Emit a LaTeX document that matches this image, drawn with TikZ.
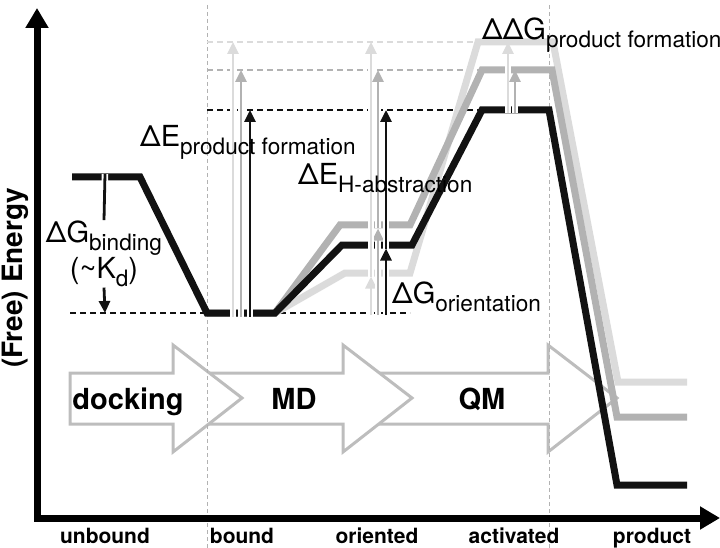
\documentclass[tikz,border=0pt]{standalone}
\usepackage{fontspec}
\setmainfont{TeX Gyre Heros}
\usetikzlibrary{arrows.meta, positioning, calc}

\definecolor{lightcurve}{gray}{0.86}
\definecolor{midcurve}{gray}{0.70}
\definecolor{darkcurve}{gray}{0.07}
\definecolor{boxline}{gray}{0.74}

\newcommand{\lblfont}{\fontsize{29}{29}\selectfont}
\newcommand{\subs}[1]{\raisebox{-8pt}{\fontsize{22.6}{22.6}\selectfont #1}}

\tikzstyle{axis} = [line width=7pt, line join=miter, {Triangle[length=20pt,width=22pt]}-{Triangle[length=20pt,width=22pt]}]
\tikzstyle{curve} = [line width=7pt, line join=miter]
\tikzstyle{level} = [dash pattern=on 6pt off 4pt, line width=1.3pt]
\tikzstyle{guide} = [dash pattern=on 4pt off 3pt, line width=0.8pt, draw=gray!60]
\tikzstyle{gapline} = [line width=2.8pt, preaction={draw=white, line width=6.5pt}]
\tikzstyle{gap} = [line width=2.8pt, -{Triangle[length=12pt,width=11pt]}, preaction={draw=white, line width=6.5pt, arrows=-, shorten >=11pt}]
\tikzstyle{stage} = [draw=boxline, line width=3pt, fill=white, line join=miter]
\tikzstyle{lab} = [inner sep=0pt, font=\lblfont, anchor=base west]
\tikzstyle{stagelab} = [font=\fontsize{29}{29}\selectfont\bfseries, anchor=base]
\tikzstyle{state} = [font=\fontsize{21}{21}\selectfont\bfseries, anchor=base]

\begin{document}
\begin{tikzpicture}[x=1pt, y=-1pt]
    \useasboundingbox (0,0) rectangle (720,548);

    % method arrows
    \draw[stage] (370,373) -- (548,373) -- (548,345) -- (617,398) -- (548,452) -- (548,424) -- (370,424) -- cycle;
    \draw[stage] (200,373) -- (343,373) -- (343,345) -- (412,398) -- (343,452) -- (343,424) -- (200,424) -- cycle;
    \draw[stage] (70,373) -- (173,373) -- (173,345) -- (242,398) -- (173,452) -- (173,424) -- (70,424) -- cycle;
    \node[stagelab] (dock) at (128,409) {docking};
    \node[stagelab] (md) at (294,409) {MD};
    \node[stagelab] (qm) at (482,409) {QM};

    % state guides
    \draw[guide] (207,5) -- (207,548);
    \draw[guide] (549,5) -- (549,548);

    % reference levels
    \draw[level, draw=lightcurve] (207,42) -- (478,42);
    \draw[level, draw=midcurve] (207,70) -- (482,70);
    \draw[level, draw=darkcurve] (207,110) -- (482,110);
    \draw[level, draw=darkcurve] (70,313) -- (410,313);

    % energy profiles
    \draw[curve, draw=lightcurve] (207,313) -- (275,313) -- (345,273) -- (410,273) -- (478,42) -- (553,42) -- (618,382) -- (687,382);
    \draw[curve, draw=midcurve] (207,313) -- (275,313) -- (340,225) -- (410,225) -- (482,70) -- (552,70) -- (617,417) -- (687,417);
    \draw[curve, draw=darkcurve] (72,177) -- (140,177) -- (207,313) -- (275,313) -- (342,245) -- (412,245) -- (482,110) -- (549,110) -- (617,485) -- (687,485);

    % arrow ends
    \coordinate (bindT) at (105,174);
    \coordinate (bindB) at (105,313);
    \coordinate (pfL0) at (233,316.5);
    \coordinate (pfL1) at (233,42);
    \coordinate (pfM0) at (241,316.5);
    \coordinate (pfM1) at (241,70);
    \coordinate (pfD0) at (250,316.5);
    \coordinate (pfD1) at (250,110);
    \coordinate (orL0) at (371,315);
    \coordinate (orL1) at (371,276.5);
    \coordinate (orM0) at (378,315);
    \coordinate (orM1) at (378,228.5);
    \coordinate (orD0) at (386,315);
    \coordinate (orD1) at (386,248.5);
    \coordinate (haL) at (371,42);
    \coordinate (haM) at (378,70);
    \coordinate (haD) at (386,110);
    \coordinate (ddL0) at (508,113.5);
    \coordinate (ddL1) at (508,42);
    \coordinate (ddM0) at (515,113.5);
    \coordinate (ddM1) at (515,70);

    % labels
    \node[lab, anchor=base, inner sep=1pt] (tbind) at (104,243) {ΔG\subs{binding}};
    \node[lab, anchor=base, inner sep=1pt] (tkd) at (104,278) {(\textasciitilde K\subs{d})};

    % differences
    \draw[gapline, draw=darkcurve] (bindT) -- (tbind.north);
    \draw[gap, draw=darkcurve, fill=darkcurve] (tkd.south) -- (bindB);
    \draw[gap, draw=lightcurve, fill=lightcurve] (pfL0) -- (pfL1);
    \draw[gap, draw=midcurve, fill=midcurve] (pfM0) -- (pfM1);
    \draw[gap, draw=darkcurve, fill=darkcurve] (pfD0) -- (pfD1);
    \draw[gap, draw=lightcurve, fill=lightcurve] (orL0) -- (orL1);
    \draw[gap, draw=midcurve, fill=midcurve] (orM0) -- (orM1);
    \draw[gap, draw=darkcurve, fill=darkcurve] (orD0) -- (orD1);
    \draw[gap, draw=lightcurve, fill=lightcurve] (orL1) -- (haL);
    \draw[gap, draw=midcurve, fill=midcurve] (orM1) -- (haM);
    \draw[gap, draw=darkcurve, fill=darkcurve] (orD1) -- (haD);
    \draw[gap, draw=lightcurve, fill=lightcurve] (ddL0) -- (ddL1);
    \draw[gap, draw=midcurve, fill=midcurve] (ddM0) -- (ddM1);

    \node[lab] (tpf) at (140,147) {ΔE\subs{product formation}};
    \node[lab] (tha) at (298,185) {ΔE\subs{H-abstraction}};
    \node[lab] (tor) at (392,303) {ΔG\subs{orientation}};
    \node[lab] (tddg) at (482,40) {ΔΔG\subs{product formation}};

    % axes
    \draw[axis] (37,8) -- (37,518) -- (720,518);
    \node[rotate=90, font=\fontsize{28}{28}\selectfont\bfseries] (ylab) at (15,278) {(Free) Energy};
    \node[state] (unbound) at (105,543) {unbound};
    \node[state] (bound) at (242,543) {bound};
    \node[state] (oriented) at (377,543) {oriented};
    \node[state] (activated) at (514,543) {activated};
    \node[state] (product) at (652,543) {product};
\end{tikzpicture}
\end{document}
